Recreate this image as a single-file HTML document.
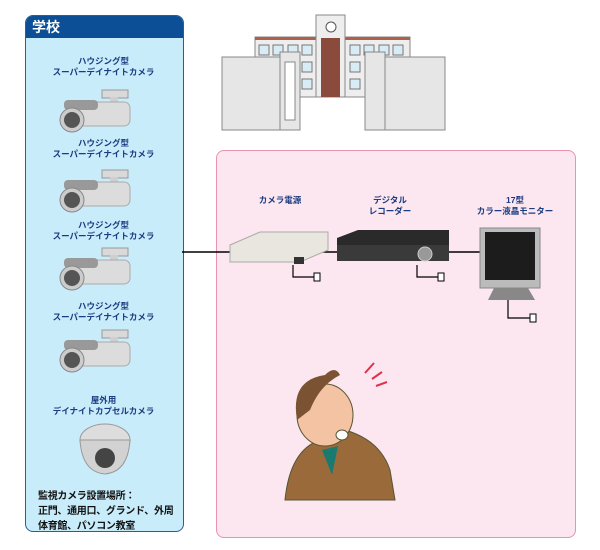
<!DOCTYPE html>
<html><head><meta charset="utf-8"><style>
body{margin:0;width:600px;height:550px;background:#fff;position:relative;overflow:hidden;font-family:"Liberation Sans","Noto Sans CJK JP",sans-serif}
.lp{position:absolute;left:25px;top:15px;width:157px;height:515px;background:#c9ecfb;border:1px solid #2a5b9a;border-radius:8px;overflow:hidden}
.hd{height:22px;background:#0d4f96;color:#fff;font-weight:bold;font-size:14px;line-height:22px;padding-left:6px}
.t{position:absolute;color:#1a3c80;font-weight:bold;font-size:8.5px;text-align:center;line-height:11px;white-space:nowrap}
.pk{position:absolute;left:216px;top:150px;width:358px;height:386px;background:#fce6ef;border:1px solid #e892b4;border-radius:8px}
</style></head><body>
<div class="lp"><div class="hd">学校</div></div>
<div class="t" style="left:25px;width:157px;top:56px">ハウジング型<br>スーパーデイナイトカメラ</div>
<div class="t" style="left:25px;width:157px;top:138px">ハウジング型<br>スーパーデイナイトカメラ</div>
<div class="t" style="left:25px;width:157px;top:220px">ハウジング型<br>スーパーデイナイトカメラ</div>
<div class="t" style="left:25px;width:157px;top:301px">ハウジング型<br>スーパーデイナイトカメラ</div>
<div class="t" style="left:25px;width:157px;top:395px">屋外用<br>デイナイトカプセルカメラ</div>
<div style="position:absolute;left:38px;top:489px;font-size:10px;line-height:15px;color:#111;font-weight:bold;letter-spacing:-0.3px;white-space:nowrap">監視カメラ設置場所：<br>正門、通用口、グランド、外周<br>体育館、パソコン教室</div>
<div class="pk"></div>
<div class="t" style="left:240px;width:80px;top:195px">カメラ電源</div>
<div class="t" style="left:350px;width:80px;top:195px">デジタル<br>レコーダー</div>
<div class="t" style="left:460px;width:110px;top:195px">17型<br>カラー液晶モニター</div>
<svg width="600" height="550" style="position:absolute;left:0;top:0">
<defs><g id="cam">
<rect x="44" y="0" width="26" height="8" fill="#d9d9d9" stroke="#999"/>
<rect x="52" y="7" width="8" height="12" fill="#cfcfcf"/>
<rect x="10" y="12" width="62" height="24" rx="6" fill="#dcdcdc" stroke="#aaa"/>
<rect x="6" y="10" width="34" height="10" rx="4" fill="#999"/>
<circle cx="14" cy="30" r="12" fill="#ccc" stroke="#888"/>
<circle cx="14" cy="30" r="8" fill="#555"/>
</g></defs>
<use href="#cam" x="58" y="90"/><use href="#cam" x="58" y="170"/><use href="#cam" x="58" y="248"/><use href="#cam" x="58" y="330"/>
<ellipse cx="105" cy="440" rx="25" ry="16" fill="#ddd" stroke="#999"/>
<path d="M80 440 Q82 472 105 474 Q128 472 130 440Z" fill="#d2d2d2" stroke="#999"/>
<circle cx="105" cy="458" r="10" fill="#444"/>
<rect x="255" y="37" width="155" height="60" fill="#eee" stroke="#888"/>
<rect x="255" y="37" width="155" height="3" fill="#b0604a"/>
<g fill="#d8ecf6" stroke="#777">
<rect x="259" y="45" width="10" height="10"/><rect x="273" y="45" width="10" height="10"/><rect x="288" y="45" width="10" height="10"/><rect x="302" y="45" width="10" height="10"/>
<rect x="350" y="45" width="10" height="10"/><rect x="364" y="45" width="10" height="10"/><rect x="379" y="45" width="10" height="10"/><rect x="393" y="45" width="10" height="10"/>
<rect x="302" y="62" width="10" height="10"/><rect x="302" y="79" width="10" height="10"/><rect x="350" y="62" width="10" height="10"/><rect x="350" y="79" width="10" height="10"/></g>
<rect x="316" y="15" width="29" height="82" fill="#eee" stroke="#888"/>
<circle cx="331" cy="27" r="5" fill="#fff" stroke="#555"/>
<rect x="321" y="38" width="19" height="59" fill="#8a4a3c"/>
<rect x="222" y="57" width="60" height="73" fill="#e6e6e6" stroke="#888"/>
<rect x="280" y="52" width="20" height="78" fill="#e6e6e6" stroke="#888"/><rect x="285" y="62" width="10" height="58" fill="#fff" stroke="#888"/>
<rect x="365" y="52" width="20" height="78" fill="#e6e6e6" stroke="#888"/>
<rect x="385" y="57" width="60" height="73" fill="#e6e6e6" stroke="#888"/>
<line x1="182" y1="252" x2="480" y2="252" stroke="#000" stroke-width="1.5"/>
<g fill="none" stroke="#000" stroke-width="1.2"><path d="M293 265V277H314"/><path d="M417 265V277H438"/><path d="M508 300V318H530"/></g>
<g fill="#fff" stroke="#000"><rect x="314" y="273" width="6" height="8"/><rect x="438" y="273" width="6" height="8"/><rect x="530" y="314" width="6" height="8"/></g>
<path d="M230 245L260 232H328V250L300 262H230Z" fill="#e8e6df" stroke="#aaa"/>
<rect x="294" y="257" width="10" height="7" fill="#333"/>
<path d="M337 238L358 230H449V250L425 261H337Z" fill="#2a2a2a"/>
<rect x="337" y="245" width="112" height="16" fill="#3a3a3a"/>
<circle cx="425" cy="254" r="7" fill="#999" stroke="#ccc"/>
<rect x="480" y="228" width="60" height="60" fill="#bbb" stroke="#888"/>
<rect x="485" y="232" width="50" height="48" fill="#1c1c1c"/>
<path d="M494 288H528L535 300H488Z" fill="#888"/>
<g stroke="#e0304a" stroke-width="2"><line x1="365" y1="373" x2="374" y2="363"/><line x1="372" y1="379" x2="382" y2="372"/><line x1="376" y1="386" x2="387" y2="382"/></g>
<path d="M285 500 Q290 450 320 440 L345 430 Q380 440 390 470 L395 500Z" fill="#9b6a3a" stroke="#553"/>
<path d="M322 450 L338 446 L332 475Z" fill="#1a7a70"/>
<ellipse cx="325" cy="415" rx="28" ry="31" fill="#f4c3a3" stroke="#553"/>
<path d="M297 420 Q290 380 325 375 Q335 365 340 375 Q320 385 310 410Z" fill="#7b5232"/>
<ellipse cx="342" cy="435" rx="6" ry="5" fill="#fff" stroke="#553"/>
</svg>
</body></html>
